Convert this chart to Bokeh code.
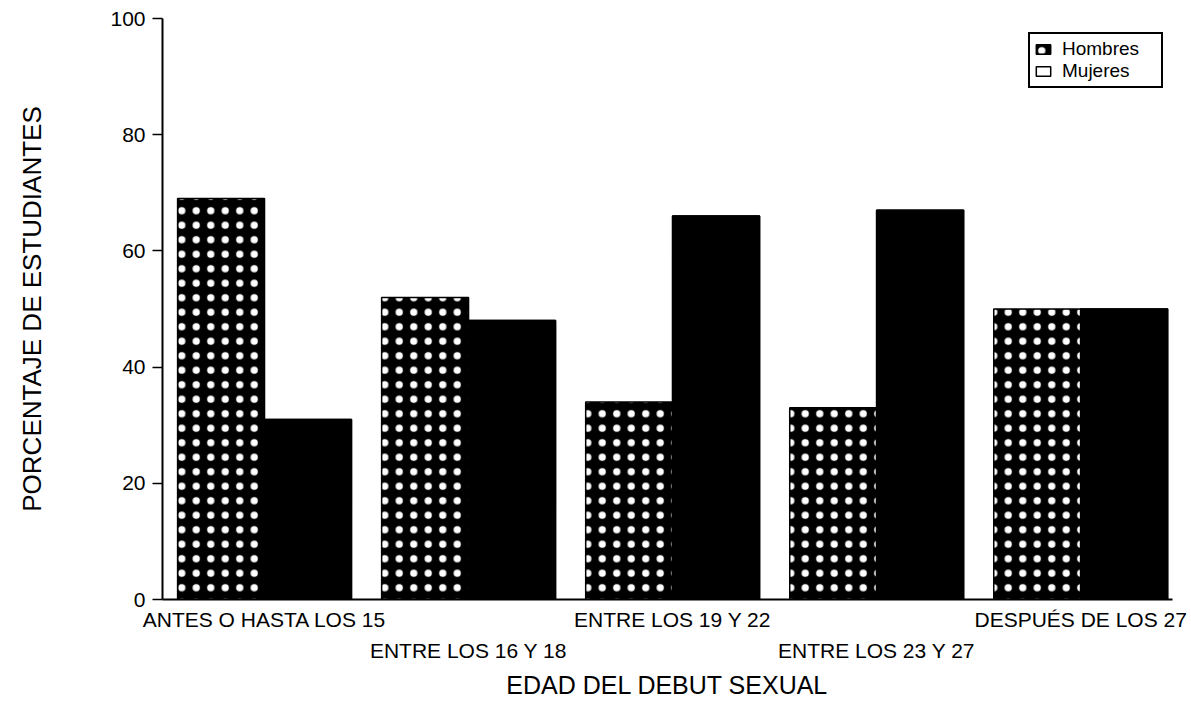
from bokeh.plotting import figure
from bokeh.models import ColumnDataSource, Legend, LegendItem, LinearAxis, FixedTicker, Range1d
from bokeh.embed import file_html
from bokeh.resources import INLINE

categories = ["ANTES O HASTA LOS 15", "ENTRE LOS 16 Y 18", "ENTRE LOS 19 Y 22",
              "ENTRE LOS 23 Y 27", "DESPUÉS DE LOS 27"]
hombres = [69, 52, 34, 33, 50]
mujeres = [31, 48, 66, 67, 50]
y_ticks = [0, 20, 40, 60, 80, 100]

centers = [i + 0.5 for i in range(len(categories))]
bw = 0.426
src = ColumnDataSource(dict(
    xh=[c - bw / 2 for c in centers],
    xm=[c + bw / 2 for c in centers],
    h=hombres, m=mujeres,
))

FONT = "Liberation Sans"

p = figure(frame_width=1010, frame_height=581, min_border_left=162, min_border_top=18,
           min_border_right=19, min_border_bottom=105,
           x_range=Range1d(0, 4.95), y_range=Range1d(0, 100),
           output_backend="svg", toolbar_location=None, x_axis_location=None)
p.outline_line_color = None
p.grid.visible = False
p.background_fill_color = "white"

rh = p.vbar(x="xh", top="h", width=bw, source=src, fill_color="black",
            line_color="black", line_width=1.5,
            hatch_pattern="dot", hatch_color="white", hatch_scale=14.5, hatch_weight=6)
# white swatch layer for the legend (hidden under the Mujeres bars)
rleg = p.vbar(x="xm", top="m", width=bw, source=src, fill_color="white",
              line_color="black", line_width=1.5)
rm = p.vbar(x="xm", top="m", width=bw, source=src, fill_color="black",
            line_color="black", line_width=1.5)

# y axis
ya = p.yaxis[0]
ya.ticker = FixedTicker(ticks=y_ticks)
ya.minor_tick_line_color = None
ya.major_tick_out = 10
ya.major_tick_in = 0
ya.axis_line_width = 2
ya.major_tick_line_width = 1.5
ya.major_label_text_font = FONT
ya.major_label_text_font_size = "21px"
ya.major_label_text_color = "black"
ya.major_label_standoff = 7
ya.axis_label = "PORCENTAJE DE ESTUDIANTES"
ya.axis_label_text_font = FONT
ya.axis_label_text_font_size = "26px"
ya.axis_label_text_font_style = "normal"
ya.axis_label_text_color = "black"
ya.axis_label_standoff = 60

# x axes: staggered labels
odd = [0, 2, 4]
even = [1, 3]
xa1 = LinearAxis(ticker=FixedTicker(ticks=[centers[i] for i in odd]),
                 major_label_overrides={centers[i]: categories[i] for i in odd})
xa1.axis_line_width = 2
xa1.major_tick_line_color = None
xa1.minor_tick_line_color = None
xa1.major_label_text_font = FONT
xa1.major_label_text_font_size = "21px"
xa1.major_label_text_color = "black"
xa1.major_label_standoff = 2
p.add_layout(xa1, "below")

xa2 = LinearAxis(ticker=FixedTicker(ticks=[centers[i] for i in even]),
                 major_label_overrides={centers[i]: categories[i] for i in even})
xa2.axis_line_color = None
xa2.major_tick_line_color = None
xa2.minor_tick_line_color = None
xa2.major_label_text_font = FONT
xa2.major_label_text_font_size = "21px"
xa2.major_label_text_color = "black"
xa2.major_label_standoff = -1
xa2.axis_label = "EDAD DEL DEBUT SEXUAL"
xa2.axis_label_text_font = FONT
xa2.axis_label_text_font_size = "25px"
xa2.axis_label_text_font_style = "normal"
xa2.axis_label_text_color = "black"
xa2.axis_label_standoff = 6
p.add_layout(xa2, "below")

legend = Legend(items=[LegendItem(label="Hombres", renderers=[rh]),
                       LegendItem(label="Mujeres", renderers=[rleg])],
                location=(866, 511))
legend.border_line_color = "black"
legend.border_line_alpha = 1
legend.border_line_width = 2
legend.label_text_font = FONT
legend.label_text_font_size = "19px"
legend.label_text_color = "black"
legend.glyph_width = 18
legend.glyph_height = 12
legend.label_standoff = 10
legend.label_width = 95
legend.spacing = 0
legend.padding = 4
legend.margin = 0
legend.label_height = 18
p.add_layout(legend, "center")

open("out.html", "w").write(file_html(p, INLINE))
